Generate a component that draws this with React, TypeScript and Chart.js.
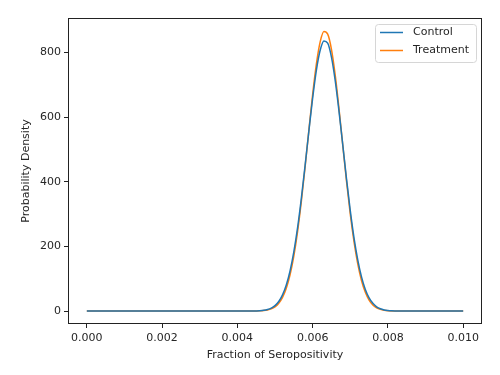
import React, { useEffect, useRef } from "react";
import { Chart, registerables } from "chart.js";

Chart.register(...registerables);

const xValues = [
  0, 0.001, 0.002, 0.003, 0.004, 0.0044,
  0.0045, 0.0046, 0.0047, 0.0048, 0.0049, 0.005, 0.0051, 0.0052, 0.0053, 0.0054,
  0.0055, 0.0056, 0.0057, 0.0058, 0.0059, 0.006, 0.0061, 0.0062, 0.0063, 0.0064,
  0.0065, 0.0066, 0.0067, 0.0068, 0.0069, 0.007, 0.0071, 0.0072, 0.0073, 0.0074,
  0.0075, 0.0076, 0.0077, 0.0078, 0.0079, 0.008, 0.0081, 0.0082,
  0.0083, 0.009, 0.01,
];

const controlValues = [
  0, 0, 0, 0, 0, 0.2,
  0.52, 1.1, 2.4, 4.8, 9.2, 16.9, 29.7, 50, 80.6, 124,
  183, 258, 349, 451, 557, 659, 746, 807, 836, 829,
  786, 713, 619, 515, 409, 311, 226, 158, 105, 67,
  41, 24, 13.3, 7.1, 3.6, 1.8, 0.8, 0.35,
  0.1, 0, 0,
];

const treatmentValues = [
  0, 0, 0, 0, 0, 0.1,
  0.32, 0.74, 1.6, 3.4, 6.9, 13.3, 24.3, 42.5, 70.7, 112,
  170, 246, 339, 446, 560, 670, 765, 833, 865, 857,
  810, 730, 627, 514, 402, 300, 214, 145, 94, 58,
  34, 19, 10.3, 5.3, 2.6, 1.2, 0.5, 0.2,
  0.05, 0, 0,
];

const xTicks = [0, 0.002, 0.004, 0.006, 0.008, 0.01];
const yTicks = [0, 200, 400, 600, 800];
const seriesNames = ["Control", "Treatment"];
const seriesColors = ["#1f77b4", "#ff7f0e"];

const FONT = "DejaVu Sans";
const TEXT = "#262626";
const FS = 11;

export default function App() {
  const ref = useRef<HTMLCanvasElement | null>(null);

  useEffect(() => {
    if (!ref.current) return;
    const mk = (vals: number[]) => xValues.map((x, i) => ({ x, y: vals[i] }));

    const framePlugin = {
      id: "frameLegend",
      afterDraw(chart: any) {
        const ctx = chart.ctx;
        const a = chart.chartArea;
        ctx.save();
        ctx.strokeStyle = "#222";
        ctx.lineWidth = 1;
        ctx.strokeRect(Math.round(a.left) + 0.5, Math.round(a.top) + 0.5,
          Math.round(a.right - a.left) - 1, Math.round(a.bottom - a.top) - 1);

        // legend
        const bx = 375.5, by = 24.5, bw = 101, bh = 38, r = 3;
        ctx.beginPath();
        ctx.moveTo(bx + r, by);
        ctx.lineTo(bx + bw - r, by);
        ctx.quadraticCurveTo(bx + bw, by, bx + bw, by + r);
        ctx.lineTo(bx + bw, by + bh - r);
        ctx.quadraticCurveTo(bx + bw, by + bh, bx + bw - r, by + bh);
        ctx.lineTo(bx + r, by + bh);
        ctx.quadraticCurveTo(bx, by + bh, bx, by + bh - r);
        ctx.lineTo(bx, by + r);
        ctx.quadraticCurveTo(bx, by, bx + r, by);
        ctx.closePath();
        ctx.fillStyle = "rgba(255,255,255,0.8)";
        ctx.fill();
        ctx.strokeStyle = "#d6d6d6";
        ctx.stroke();

        const rows = [32.5, 50.5];
        ctx.font = `${FS}px "${FONT}"`;
        ctx.textBaseline = "middle";
        ctx.textAlign = "left";
        rows.forEach((yy, i) => {
          ctx.strokeStyle = seriesColors[i];
          ctx.lineWidth = 1.5;
          ctx.beginPath();
          ctx.moveTo(380, yy);
          ctx.lineTo(403, yy);
          ctx.stroke();
          ctx.fillStyle = TEXT;
          ctx.fillText(seriesNames[i], 413, yy);
        });
        ctx.restore();
      },
    };

    const chart = new Chart(ref.current, {
      type: "line",
      data: {
        datasets: [
          {
            label: seriesNames[0],
            data: mk(controlValues),
            borderColor: seriesColors[0],
            backgroundColor: seriesColors[0],
            borderWidth: 1.5,
            pointRadius: 0,
            cubicInterpolationMode: "monotone",
            fill: false,
          },
          {
            label: seriesNames[1],
            data: mk(treatmentValues),
            borderColor: seriesColors[1],
            backgroundColor: seriesColors[1],
            borderWidth: 1.5,
            pointRadius: 0,
            cubicInterpolationMode: "monotone",
            fill: false,
          },
        ],
      },
      options: {
        animation: false,
        responsive: false,
        maintainAspectRatio: false,
        layout: { padding: { left: 0, top: 18, right: 18, bottom: 0 } },
        plugins: {
          legend: { display: false },
          tooltip: { enabled: false },
        },
        scales: {
          x: {
            type: "linear",
            min: -0.0005,
            max: 0.0105,
            afterBuildTicks: (s: any) => {
              s.ticks = xTicks.map((v) => ({ value: v }));
            },
            afterFit: (s: any) => {
              s.height = 51;
            },
            ticks: {
              color: TEXT,
              font: { family: FONT, size: FS },
              padding: 4,
              maxRotation: 0,
              autoSkip: false,
              callback: (v: any) => Number(v).toFixed(3),
            },
            grid: { drawOnChartArea: false, drawTicks: true, tickLength: 4, color: "#222" },
            border: { display: false },
            title: {
              display: true,
              text: "Fraction of Seropositivity",
              color: TEXT,
              font: { family: FONT, size: FS },
              padding: { top: 0, bottom: 13 },
            },
          },
          y: {
            type: "linear",
            min: -40,
            max: 907,
            afterBuildTicks: (s: any) => {
              s.ticks = yTicks.map((v) => ({ value: v }));
            },
            afterFit: (s: any) => {
              s.width = 68;
            },
            ticks: {
              color: TEXT,
              font: { family: FONT, size: FS },
              padding: 3,
              autoSkip: false,
              callback: (v: any) => String(v),
            },
            grid: { drawOnChartArea: false, drawTicks: true, tickLength: 4, color: "#222" },
            border: { display: false },
            title: {
              display: true,
              text: "Probability Density",
              color: TEXT,
              font: { family: FONT, size: FS },
              padding: { top: 20, bottom: 0 },
            },
          },
        },
      },
      plugins: [framePlugin],
    } as any);

    return () => chart.destroy();
  }, []);

  return (
    <div style={{ position: "absolute", left: 0, top: 0, width: 500, height: 375, background: "#fff" }}>
      <canvas ref={ref} width={500} height={375} style={{ width: 500, height: 375, display: "block" }} />
    </div>
  );
}
